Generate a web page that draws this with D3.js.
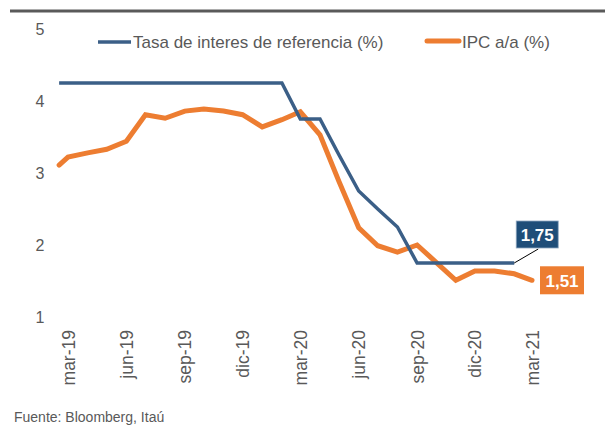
<!DOCTYPE html>
<html>
<head>
<meta charset="utf-8">
<script src="https://cdn.jsdelivr.net/npm/d3@7"></script>
<style>
  body { margin: 0; background: #fff; }
  svg { display: block; font-family: "Liberation Sans", Arial, sans-serif; }
</style>
</head>
<body>
<div id="container"></div>
<script>
//monthly dates (first point is mid-feb)
var dates = ["2019-02-15","2019-03-01","2019-04-01","2019-05-01","2019-06-01","2019-07-01","2019-08-01",
  "2019-09-01","2019-10-01","2019-11-01","2019-12-01","2020-01-01","2020-02-01","2020-03-01","2020-04-01",
  "2020-05-01","2020-06-01","2020-07-01","2020-08-01","2020-09-01","2020-10-01","2020-11-01","2020-12-01",
  "2021-01-01","2021-02-01","2021-03-01"];

//series values
var tasa = [4.25,4.25,4.25,4.25,4.25,4.25,4.25,4.25,4.25,4.25,4.25,4.25,4.25,3.75,3.75,3.25,2.75,2.5,2.25,
  1.75,1.75,1.75,1.75,1.75,1.75,null];
var ipc = [3.11,3.22,3.28,3.33,3.44,3.81,3.76,3.86,3.89,3.86,3.81,3.64,3.74,3.85,3.53,2.88,2.24,1.99,1.90,
  2.00,1.76,1.51,1.64,1.64,1.60,1.51];

//tick labels
var tickDates = ["2019-03-01","2019-06-01","2019-09-01","2019-12-01","2020-03-01","2020-06-01","2020-09-01","2020-12-01","2021-03-01"];
var tickLabels = ["mar-19","jun-19","sep-19","dic-19","mar-20","jun-20","sep-20","dic-20","mar-21"];
var yTicks = [1,2,3,4,5];

var seriesNames = ["Tasa de interes de referencia (%)","IPC a/a (%)"];
var blue = "#3b5f87", orange = "#ed7d31", grey = "#595959";

var width = 605, height = 426;
var parse = d3.timeParse("%Y-%m-%d");

var x = d3.scaleTime()
  .domain([parse("2019-03-01"), parse("2021-03-01")])
  .range([68, 532]);
var y = d3.scaleLinear().domain([1, 5]).range([317, 29]);

var svg = d3.select("#container").append("svg")
  .attr("width", width).attr("height", height);

//top rule
svg.append("line")
  .attr("x1", 10).attr("x2", 605).attr("y1", 11).attr("y2", 11)
  .attr("stroke", "#5a5a5a").attr("stroke-width", 3);

//y axis (labels only)
svg.append("g")
  .attr("transform", "translate(48,0)")
  .call(d3.axisLeft(y).tickValues(yTicks).tickSize(0).tickPadding(0).tickFormat(d3.format("d")))
  .call(function(g) { g.select(".domain").remove(); })
  .selectAll("text")
  .attr("fill", grey).style("font-size", "16px")
  .attr("text-anchor", "middle").attr("x", -8);

//x axis (rotated labels only)
var xAxis = svg.append("g")
  .attr("transform", "translate(0,330)")
  .call(d3.axisBottom(x).tickValues(tickDates.map(parse)).tickSize(0)
    .tickFormat(function(d, i) { return tickLabels[i]; }))
  .call(function(g) { g.select(".domain").remove(); });
xAxis.selectAll("text")
  .attr("fill", grey).style("font-size", "17.5px")
  .attr("transform", "rotate(-90)")
  .attr("x", 0).attr("y", 0).attr("dy", "0.35em")
  .attr("text-anchor", "end");

var rows = dates.map(function(d, i) { return {date: parse(d), tasa: tasa[i], ipc: ipc[i]}; });

var lineFor = function(key) {
  return d3.line()
    .defined(function(d) { return d[key] != null; })
    .x(function(d) { return x(d.date); })
    .y(function(d) { return y(d[key]); });
};

svg.append("path").datum(rows)
  .attr("d", lineFor("ipc"))
  .attr("fill", "none").attr("stroke", orange).attr("stroke-width", 5)
  .attr("stroke-linejoin", "miter").attr("stroke-linecap", "round");

svg.append("path").datum(rows)
  .attr("d", lineFor("tasa"))
  .attr("fill", "none").attr("stroke", blue).attr("stroke-width", 3.5)
  .attr("stroke-linejoin", "miter");

//end labels
var fmt = function(v) { return d3.format(".2f")(v).replace(".", ","); };
var lastTasa = rows.filter(function(d) { return d.tasa != null; }).pop();
var lastIpc = rows[rows.length - 1];

var tx = x(lastTasa.date), ty = y(lastTasa.tasa);
svg.append("line")
  .attr("x1", tx).attr("y1", ty).attr("x2", tx + 24).attr("y2", ty - 14)
  .attr("stroke", "#000").attr("stroke-width", 1);
svg.append("rect")
  .attr("x", tx + 2).attr("y", ty - 42).attr("width", 42).attr("height", 27)
  .attr("fill", "#1f4e79").attr("stroke", "#8fa7c0").attr("stroke-width", 0.8);
svg.append("text")
  .attr("x", tx + 23).attr("y", ty - 22)
  .attr("text-anchor", "middle").attr("fill", "#fff")
  .style("font-size", "17px").style("font-weight", "bold")
  .text(fmt(lastTasa.tasa));

var ix = x(lastIpc.date), iy = y(lastIpc.ipc);
svg.append("rect")
  .attr("x", ix + 8).attr("y", iy - 14).attr("width", 44).attr("height", 28)
  .attr("fill", orange);
svg.append("text")
  .attr("x", ix + 30).attr("y", iy + 6.5)
  .attr("text-anchor", "middle").attr("fill", "#fff")
  .style("font-size", "17px").style("font-weight", "bold")
  .text(fmt(lastIpc.ipc));

//legend
var legend = svg.append("g");
legend.append("line").attr("x1", 98).attr("x2", 131).attr("y1", 42).attr("y2", 42)
  .attr("stroke", blue).attr("stroke-width", 3.5);
legend.append("text").attr("x", 133).attr("y", 48)
  .attr("fill", grey).style("font-size", "17px").text(seriesNames[0]);
legend.append("line").attr("x1", 427).attr("x2", 459).attr("y1", 41).attr("y2", 41)
  .attr("stroke", orange).attr("stroke-width", 5).attr("stroke-linecap", "round");
legend.append("text").attr("x", 462).attr("y", 48)
  .attr("fill", grey).style("font-size", "17px").text(seriesNames[1]);

//source
svg.append("text")
  .attr("x", 14).attr("y", 422)
  .attr("fill", grey).style("font-size", "14px")
  .text("Fuente: Bloomberg, Itaú");
</script>
</body>
</html>
